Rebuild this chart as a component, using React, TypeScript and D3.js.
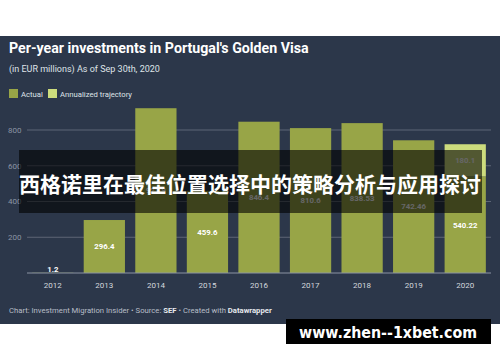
import React from "react";
import * as d3 from "d3";

const years = ["2012", "2013", "2014", "2015", "2016", "2017", "2018", "2019", "2020"];
const actual = [1.2, 296.4, 921.9, 459.6, 846.4, 810.6, 838.53, 742.46, 540.22];
const trajectory = [0, 0, 0, 0, 0, 0, 0, 0, 180.1];
const yTicks = [200, 400, 600, 800];

const W = 500;
const H = 362;
const FONT = "Roboto, 'Noto Sans', sans-serif";
const BG = "#2c374a";
const C_ACT = "#98a547";
const C_TRAJ = "#cddc7d";

export default function App() {
  const x = d3.scaleBand<string>().domain(years).range([27, 491]).paddingInner(0.2).paddingOuter(0.1);
  const y = d3.scaleLinear().domain([0, 800]).range([273, 130]);
  const fmt = (v: number) => String(v);

  return (
    <svg width={W} height={H} style={{ position: "fixed", left: 0, top: 0, display: "block" }} fontFamily={FONT}>
      <rect x={0} y={0} width={W} height={H} fill="#ffffff" />
      <rect x={0} y={36} width={W} height={288} fill={BG} />

      <text x={9} y={53} fill="#ffffff" fontSize={14.2} fontWeight={700}>
        Per-year investments in Portugal's Golden Visa
      </text>
      <text x={9} y={72} fill="#dfe3e8" fontSize={9}>
        (in EUR millions) As of Sep 30th, 2020
      </text>

      <g>
        <rect x={9} y={89} width={9} height={9} fill={C_ACT} />
        <text x={21} y={96.6} fill="#dfe3e8" fontSize={7.7}>Actual</text>
        <rect x={48} y={89} width={9} height={9} fill={C_TRAJ} />
        <text x={60} y={96.6} fill="#dfe3e8" fontSize={7.7}>Annualized trajectory</text>
      </g>

      {yTicks.map((t) => (
        <g key={t}>
          <line x1={27} x2={491} y1={y(t)} y2={y(t)} stroke="#5d6676" strokeWidth={1} />
          <text x={8} y={y(t) + 2.8} fill="#8b94a3" fontSize={8}>{t}</text>
        </g>
      ))}

      {years.map((yr, i) => {
        const bx = x(yr)!;
        const bw = x.bandwidth();
        const a = actual[i];
        const tr = trajectory[i];
        const big = y(0) - y(a) > 12;
        return (
          <g key={yr}>
            <rect x={bx} y={y(a)} width={bw} height={y(0) - y(a)} fill={C_ACT} />
            {tr > 0 && (
              <rect x={bx} y={y(a + tr)} width={bw} height={y(a) - y(a + tr)} fill={C_TRAJ} />
            )}
            <text
              x={bx + bw / 2}
              y={big ? (y(0) + y(a)) / 2 + 2.8 : y(a) - 0.5}
              textAnchor="middle"
              fill="#ffffff"
              fontSize={7.8}
              fontWeight={700}
            >
              {fmt(a)}
            </text>
            {tr > 0 && (
              <text
                x={bx + bw / 2}
                y={(y(a) + y(a + tr)) / 2 + 2.8}
                textAnchor="middle"
                fill="#ffffff"
                fontSize={7.8}
                fontWeight={700}
              >
                {fmt(tr)}
              </text>
            )}
            <text x={bx + bw / 2} y={288} textAnchor="middle" fill="#d4d8de" fontSize={8}>
              {yr}
            </text>
          </g>
        );
      })}
      <line x1={27} x2={491} y1={y(0)} y2={y(0)} stroke="#8b94a3" strokeWidth={1} />

      <text x={9} y={312.5} fill="#b8bec8" fontSize={7.7}>
        Chart: Investment Migration Insider • Source: <tspan fontWeight={700} fill="#e6e9ee">SEF</tspan> • Created with{" "}
        <tspan fontWeight={700} fill="#e6e9ee">Datawrapper</tspan>
      </text>

      <rect x={19} y={150} width={463} height={63} fill="#000000" fillOpacity={0.6} />
      <text
        x={250}
        y={192}
        textAnchor="middle"
        fill="#ffffff"
        fontSize={21}
        fontWeight={700}
        fontFamily="'Noto Sans CJK SC', sans-serif"
      >
        西格诺里在最佳位置选择中的策略分析与应用探讨
      </text>

      <rect x={286} y={319} width={205} height={25} fill="#000000" />
      <text
        x={388}
        y={337.5}
        textAnchor="middle"
        fill="#ffffff"
        fontSize={16}
        fontWeight={700}
        fontFamily="'DejaVu Sans', sans-serif"
        textLength={178}
        lengthAdjust="spacingAndGlyphs"
      >
        www.zhen--1xbet.com
      </text>
    </svg>
  );
}
